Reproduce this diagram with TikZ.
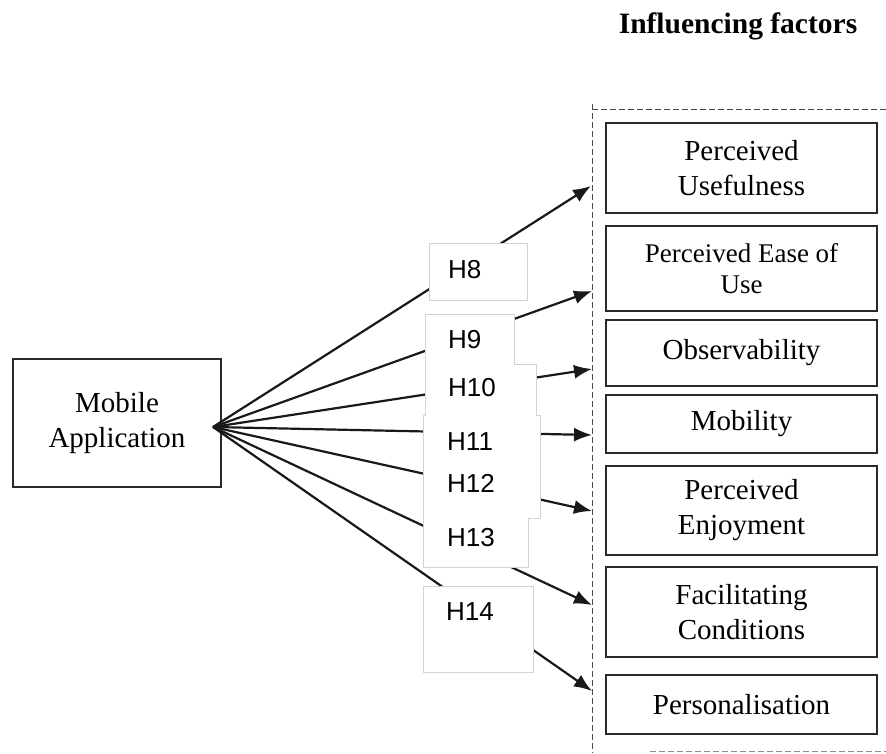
\documentclass[tikz,border=0pt]{standalone}
\usepackage{fontspec}
\setmainfont{Liberation Serif}
\newfontfamily\hfont{Liberation Sans}
\usetikzlibrary{arrows.meta}
\definecolor{boxline}{HTML}{2A2A2A}
\definecolor{hline}{HTML}{D2D2D2}
\definecolor{frameline}{HTML}{4A4A4A}
\begin{document}
\begin{tikzpicture}[x=1pt,y=-1pt,
  factor/.style={draw=boxline, line width=1.9pt, minimum width=271pt,
    align=center, inner sep=0pt, font=\fontsize{29}{35}\selectfont},
  hyp/.style={anchor=west, inner sep=0pt, font=\hfont\fontsize{26}{28}\selectfont},
  hbox/.style={draw=hline, line width=1pt, fill=white},
  link/.style={line width=2.2pt, black!90, -{Latex[length=18pt,width=14pt]}},
  frame/.style={draw=frameline, line width=1pt, dash pattern=on 6pt off 3pt}
]
\useasboundingbox (0,0) rectangle (886,753);

% heading
\node[anchor=base, font=\bfseries\fontsize{29.5}{33}\selectfont] (title) at (738,33) {Influencing factors};

% dashed frame around the factors
\draw[frame] (592,104) -- (592,753);
\draw[frame] (592,109) -- (886,109);
\draw[frame, draw=black!45] (650,751) -- (886,751);

% source construct
\node[factor, minimum width=208pt, minimum height=128pt] (app) at (117,423)
  {Mobile\\Application};
\coordinate (hub) at (213,427);

% influencing factors
\node[factor, minimum height=90pt] (pu)   at (741.5,168)   {Perceived\\Usefulness};
\node[factor, minimum height=85pt, font=\fontsize{27}{31}\selectfont] (peou) at (741.5,268.5) {Perceived Ease of\\Use};
\node[factor, minimum height=66pt] (obs)  at (741.5,353)   {Observability};
\node[factor, minimum height=58pt] (mob)  at (741.5,424)   {Mobility};
\node[factor, minimum height=89pt] (pe)   at (741.5,510.5) {Perceived\\Enjoyment};
\node[factor, minimum height=90pt] (fc)   at (741.5,612)   {Facilitating\\Conditions};
\node[factor, minimum height=59pt] (pers) at (741.5,704.5) {Personalisation};

% arrow tips on the frame line
\coordinate (t8)  at (591,186);
\coordinate (t9)  at (592,291);
\coordinate (t10) at (592,369);
\coordinate (t11) at (592,435);
\coordinate (t12) at (592,511);
\coordinate (t13) at (592,605);
\coordinate (t14) at (592,691);

% hypothesis paths
\foreach \t in {t8,t9,t10,t11,t12,t13,t14}
  \draw[link] (hub) -- (\t);

% hypothesis label boxes (drawn over the paths)
\draw[hbox] (429,243) rectangle (527,300);
\draw[hbox] (425,314) -- (514,314) -- (514,364) -- (536,364) -- (536,415)
  -- (540,415) -- (540,518) -- (528,518) -- (528,567) -- (423,567)
  -- (423,415) -- (425,415) -- cycle;
\draw[hbox] (423,586) rectangle (533,672);

\node[hyp] (h8)  at (448,270) {H8};
\node[hyp] (h9)  at (448,340) {H9};
\node[hyp] (h10) at (448,388) {H10};
\node[hyp] (h11) at (447,442) {H11};
\node[hyp] (h12) at (447,483) {H12};
\node[hyp] (h13) at (447,538) {H13};
\node[hyp] (h14) at (446,612) {H14};
\end{tikzpicture}
\end{document}
